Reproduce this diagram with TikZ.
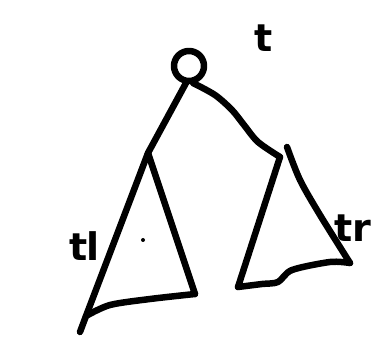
\documentclass[tikz,border=0pt]{standalone}
\usepackage{fontspec}
\setmainfont{DejaVu Sans}
\begin{document}
\begin{tikzpicture}[x=1pt,y=-1pt,
  ink/.style={line width=6.5pt,line cap=round,line join=round},
  lab/.style={font=\fontsize{38}{38}\selectfont\bfseries,inner sep=0pt}]
\useasboundingbox (0,0) rectangle (390,344);
% root
\node[ink,draw,circle,minimum size=30pt,inner sep=0pt] (root) at (189,66) {};
\node[lab] (t) at (264,38) {t};
% apex coordinates
\coordinate (la) at (148,153);
\coordinate (ra) at (280,157);
% edges
\draw[ink] (186,83) -- (la);
\draw[ink] plot[smooth] coordinates {(193,83) (215,95) (232,110) (244,125) (258,142) (280,157)};
% left subtree
\draw[ink] (la) -- (86,316) -- (80,332);
\draw[ink] plot[smooth] coordinates {(86,316) (110,305) (150,299) (195,294)};
\draw[ink] (195,294) -- (la);
\fill (143,240) circle (2);
% right subtree
\draw[ink] (ra) -- (238,287);
\draw[ink] plot[smooth] coordinates {(238,287) (262,284) (278,282) (292,270) (330,262) (350,263)};
\draw[ink] plot[smooth] coordinates {(350,263) (320,215) (300,180) (287,147)};
% labels
\node[lab,anchor=east] (tl) at (100,246) {t\kern-1pt l};
\node[lab,anchor=west] (tr) at (334,228) {tr};
\end{tikzpicture}
\end{document}
